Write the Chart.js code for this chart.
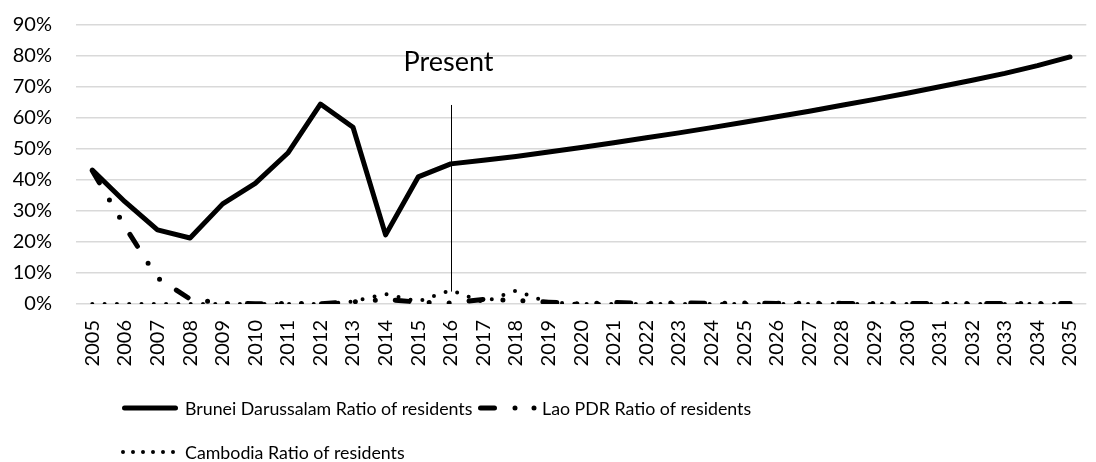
<!DOCTYPE html>
<html>
<head>
<meta charset="utf-8">
<script src="https://cdn.jsdelivr.net/npm/chart.js@4"></script>
<style>
  html, body { margin: 0; padding: 0; background: #fff; overflow: hidden; }
  #wrap { width: 1102px; height: 462px; position: relative; }
</style>
</head>
<body>
<div id="wrap"><canvas id="myChart" width="1102" height="462"></canvas></div>
<script>
// years on the x axis
const years = [
  "2005", "2006", "2007", "2008", "2009", "2010", "2011", "2012", "2013", "2014",
  "2015", "2016", "2017", "2018", "2019", "2020", "2021", "2022", "2023", "2024",
  "2025", "2026", "2027", "2028", "2029", "2030", "2031", "2032", "2033", "2034", "2035",
];

// ratio of residents (fractions)
const brunei = [
  0.432, 0.330, 0.239, 0.213, 0.323, 0.389, 0.487, 0.645, 0.570, 0.223,
  0.410, 0.452, 0.464, 0.476, 0.490, 0.505, 0.520, 0.536, 0.552, 0.569,
  0.586, 0.604, 0.622, 0.641, 0.660, 0.680, 0.701, 0.722, 0.744, 0.769, 0.797,
];
const lao = [
  0.430, 0.250, 0.084, 0.016, 0.002, 0.001, 0.002, 0.001, 0.007, 0.015,
  0.006, 0.003, 0.015, 0.012, 0.006, 0.000, 0.005, 0.002, 0.004, 0.002,
  0.003, 0.002, 0.003, 0.002, 0.002, 0.002, 0.002, 0.002, 0.002, 0.002, 0.002,
];
const cambodia = [
  0, 0, 0, 0, 0, 0, 0, 0, 0.008, 0.032,
  0.008, 0.045, 0.006, 0.043, 0.005, 0, 0, 0, 0, 0,
  0, 0, 0, 0, 0, 0, 0, 0, 0, 0, 0,
];

const seriesNames = [
  "Brunei Darussalam Ratio of residents",
  "Lao PDR Ratio of residents",
  "Cambodia Ratio of residents",
];

// "Present" marker
const presentYear = "2016";
const presentTop = 0.642;
const presentBottom = 0.04;
const presentLabelValue = 0.78;

const FONT = "Lato, 'Open Sans', sans-serif";
const gridColor = "#d9d9d9";

// Legend drawn by hand so it keeps the Excel-like layout
const legendPlugin = {
  id: "customLegend",
  afterDraw(c) {
    const ctx = c.ctx;
    const rows = [
      { ds: 0, x0: 124.5, x1: 175.5, textX: 185, y: 408, dash: [] },
      { ds: 1, x0: 480.5, x1: 534.01, textX: 542, y: 408, dash: [14, 20.5, 0, 19, 0, 20] },
      { ds: 2, x0: 123, x1: 173.01, textX: 185, y: 452, dash: [0, 10] },
    ];
    ctx.save();
    ctx.font = "17.8px " + FONT;
    ctx.fillStyle = "#000";
    ctx.textBaseline = "middle";
    rows.forEach((r) => {
      const d = c.data.datasets[r.ds];
      ctx.save();
      ctx.strokeStyle = "#000";
      ctx.lineWidth = d.borderWidth;
      ctx.lineCap = "round";
      ctx.setLineDash(r.dash);
      ctx.beginPath();
      ctx.moveTo(r.x0, r.y);
      ctx.lineTo(r.x1, r.y);
      ctx.stroke();
      ctx.restore();
      ctx.fillText(d.label, r.textX, r.y + 1);
    });
    ctx.restore();
  },
};

const presentPlugin = {
  id: "present",
  afterDatasetsDraw(c) {
    const ctx = c.ctx;
    const x = Math.round(c.scales.x.getPixelForValue(years.indexOf(presentYear))) + 0.5;
    const y1 = c.scales.y.getPixelForValue(presentTop);
    const y2 = c.scales.y.getPixelForValue(presentBottom);
    ctx.save();
    ctx.strokeStyle = "#000";
    ctx.lineWidth = 1;
    ctx.beginPath();
    ctx.moveTo(x, y1);
    ctx.lineTo(x, y2);
    ctx.stroke();
    ctx.font = "27px " + FONT;
    ctx.fillStyle = "#000";
    ctx.textAlign = "center";
    ctx.textBaseline = "middle";
    ctx.fillText("Present", x - 3, c.scales.y.getPixelForValue(presentLabelValue));
    ctx.restore();
  },
};

new Chart(document.getElementById("myChart"), {
  type: "line",
  data: {
    labels: years,
    datasets: [
      {
        label: seriesNames[0],
        data: brunei,
        borderColor: "#000",
        borderWidth: 5,
        borderCapStyle: "round",
        borderJoinStyle: "round",
        pointRadius: 0,
        tension: 0,
      },
      {
        label: seriesNames[1],
        data: lao,
        borderColor: "#000",
        borderWidth: 5,
        borderCapStyle: "round",
        borderDash: [14, 20, 0, 20, 0, 20],
        pointRadius: 0,
        tension: 0,
      },
      {
        label: seriesNames[2],
        data: cambodia,
        borderColor: "#000",
        borderWidth: 4,
        borderCapStyle: "round",
        borderDash: [0, 12.3],
        pointRadius: 0,
        tension: 0,
      },
    ],
  },
  options: {
    responsive: false,
    animation: false,
    devicePixelRatio: 1,
    layout: { padding: { top: 25, right: 0, bottom: 0, left: 0 } },
    plugins: {
      legend: { display: false },
      tooltip: { enabled: false },
    },
    scales: {
      x: {
        offset: true,
        grid: { display: false },
        border: { display: false },
        ticks: {
          color: "#000",
          font: { family: FONT, size: 20 },
          maxRotation: 90,
          minRotation: 90,
          autoSkip: false,
          padding: 8,
        },
        afterFit(scale) {
          scale.height = 158;
        },
      },
      y: {
        min: 0,
        max: 0.9,
        grid: { color: gridColor, lineWidth: 1.5, drawTicks: false },
        border: { display: false },
        ticks: {
          stepSize: 0.1,
          color: "#000",
          font: { family: FONT, size: 20 },
          padding: 24,
          callback: (v) => Math.round(v * 100) + "%",
        },
        afterFit(scale) {
          scale.width = 76;
          scale.paddingTop = 5;
          scale.paddingBottom = 5;
        },
      },
    },
  },
  plugins: [presentPlugin, legendPlugin],
});
</script>
</body>
</html>
